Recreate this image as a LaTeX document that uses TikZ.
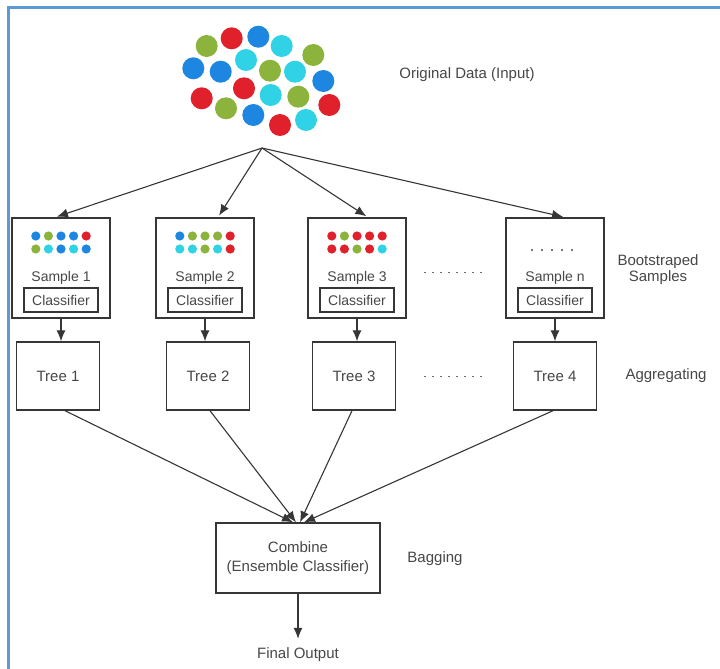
\documentclass[tikz,border=0pt]{standalone}
\usepackage{fontspec}
\setmainfont{Liberation Sans}
\usetikzlibrary{arrows.meta,calc}
\definecolor{dgreen}{HTML}{8CB43C}
\definecolor{dred}{HTML}{E0202A}
\definecolor{dblue}{HTML}{1C86E0}
\definecolor{dcyan}{HTML}{30D2E6}
\definecolor{txt}{HTML}{474747}
\definecolor{edge}{HTML}{363636}
\definecolor{framec}{HTML}{5B9BD5}
\begin{document}
\begin{tikzpicture}[x=1pt,y=-1pt,
  lbl/.style={text=txt,font=\fontsize{15}{18}\selectfont,align=center,inner sep=0pt},
  small/.style={text=txt,font=\fontsize{14}{16}\selectfont,inner sep=0pt},
  sbox/.style={draw=edge,line width=1.4pt,minimum width=98pt,minimum height=100pt,inner sep=0pt},
  cbox/.style={draw=edge,line width=1.2pt,minimum width=74pt,minimum height=24pt,inner sep=0pt,text=txt,font=\fontsize{14}{16}\selectfont},
  tbox/.style={draw=edge,line width=1.4pt,minimum width=83pt,minimum height=68pt,inner sep=0pt,text=txt,font=\fontsize{15}{18}\selectfont},
  arr/.style={draw=edge,line width=1.1pt,-{Latex[length=11pt,width=9pt]}},
  gap/.style={draw=txt!80,line width=1pt,dash pattern=on 2pt off 6pt}]
\useasboundingbox (0,0) rectangle (720,669);
\fill[white] (0,0) rectangle (720,669);
% frame edges
\draw[framec,line width=3pt] (8,669) -- (8,8) -- (720,8);

% input data cluster
\foreach \x/\y/\c in {206.7/46/dgreen,231.7/38.3/dred,258.3/36.7/dblue,281.7/46/dcyan,
  313.3/55/dgreen,246/60/dcyan,193.3/68.3/dblue,220.7/71.7/dblue,270/70.7/dgreen,
  295/71.7/dcyan,323.3/81/dblue,244/88.3/dred,270.7/95/dcyan,298.3/96.7/dgreen,
  201.7/98.3/dred,329.3/105/dred,226/108.3/dgreen,253.3/115/dblue,280/125/dred,306/120/dcyan}
  \fill[\c] (\x,\y) circle[radius=11pt];
\node[lbl] (orig) at (467,75) {Original Data (Input)};
\coordinate (src) at (262,148);

% bootstrapped samples
\node[sbox] (s1) at (61,268) {};
\node[sbox] (s2) at (205,268) {};
\node[sbox] (s3) at (357,268) {};
\node[sbox] (s4) at (555,268) {};

\foreach \c [count=\i] in {dblue,dgreen,dblue,dblue,dred}
  \fill[\c] ($(s1.center)+(\i*12.6-37.8,-32)$) circle[radius=4.6pt];
\foreach \c [count=\i] in {dgreen,dcyan,dblue,dcyan,dblue}
  \fill[\c] ($(s1.center)+(\i*12.6-37.8,-19)$) circle[radius=4.6pt];
\foreach \c [count=\i] in {dblue,dgreen,dgreen,dgreen,dred}
  \fill[\c] ($(s2.center)+(\i*12.6-37.8,-32)$) circle[radius=4.6pt];
\foreach \c [count=\i] in {dcyan,dcyan,dgreen,dcyan,dred}
  \fill[\c] ($(s2.center)+(\i*12.6-37.8,-19)$) circle[radius=4.6pt];
\foreach \c [count=\i] in {dred,dgreen,dred,dred,dred}
  \fill[\c] ($(s3.center)+(\i*12.6-37.8,-32)$) circle[radius=4.6pt];
\foreach \c [count=\i] in {dred,dred,dgreen,dred,dcyan}
  \fill[\c] ($(s3.center)+(\i*12.6-37.8,-19)$) circle[radius=4.6pt];
\foreach \i in {1,...,5}
  \fill[txt] ($(s4.center)+(\i*10-33,-18)$) circle[radius=1.2pt];

\node[small] (l1) at ($(s1.center)+(0,10)$) {Sample 1};
\node[small] (l2) at ($(s2.center)+(0,10)$) {Sample 2};
\node[small] (l3) at ($(s3.center)+(0,10)$) {Sample 3};
\node[small] (l4) at ($(s4.center)+(0,10)$) {Sample n};
\node[cbox] (c1) at ($(s1.center)+(0,32)$) {Classifier};
\node[cbox] (c2) at ($(s2.center)+(0,32)$) {Classifier};
\node[cbox] (c3) at ($(s3.center)+(0,32)$) {Classifier};
\node[cbox] (c4) at ($(s4.center)+(0,32)$) {Classifier};

\coordinate (g1a) at (424,272);
\coordinate (g1b) at (486,272);
\draw[gap] (g1a) -- (g1b);
\node[lbl] (boot) at (658,270) {Bootstraped\\[-2pt]Samples};

\draw[arr,shorten >=2pt] (src) -- ($(s1.north)+(-6,0)$);
\draw[arr,shorten >=2pt] (src) -- ($(s2.north)+(13,0)$);
\draw[arr,shorten >=2pt] (src) -- ($(s3.north)+(11,0)$);
\draw[arr,shorten >=2pt] (src) -- ($(s4.north)+(10,0)$);

% trees
\node[tbox] (t1) at (58,376) {Tree 1};
\node[tbox] (t2) at (208,376) {Tree 2};
\node[tbox] (t3) at (354,376) {Tree 3};
\node[tbox] (t4) at (555,376) {Tree 4};
\coordinate (g2a) at (424,376);
\coordinate (g2b) at (486,376);
\draw[gap] (g2a) -- (g2b);
\node[lbl] (aggr) at (666,376) {Aggregating};

\draw[arr] (s1.south) -- (s1.south |- t1.north);
\draw[arr] (s2.south) -- (s2.south |- t2.north);
\draw[arr] (s3.south) -- (s3.south |- t3.north);
\draw[arr] (s4.south) -- (s4.south |- t4.north);

% combination
\node[tbox,minimum width=164pt,minimum height=70pt,align=center] (cb) at (298,558)
  {Combine\\[1pt](Ensemble Classifier)};
\node[lbl] (bag) at (435,559) {Bagging};
\draw[arr] ($(t1.south)+(7,0)$) -- ($(cb.north)+(-5,0)$);
\draw[arr] ($(t2.south)+(2,0)$) -- ($(cb.north)+(-2,0)$);
\draw[arr] ($(t3.south)+(-2,0)$) -- ($(cb.north)+(2,0)$);
\draw[arr] ($(t4.south)+(-2,0)$) -- ($(cb.north)+(6,0)$);

\node[lbl] (out) at (298,655) {Final Output};
\draw[arr] (cb.south) -- ($(out.north)+(0,-9)$);
\end{tikzpicture}
\end{document}
